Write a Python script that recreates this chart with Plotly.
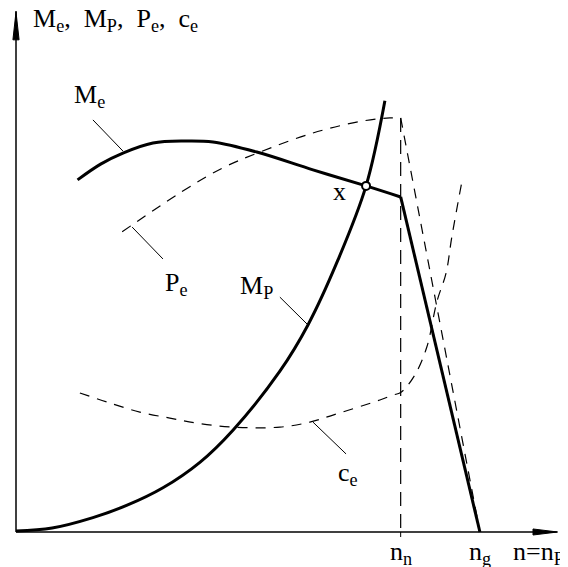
import plotly.graph_objects as go

# n as % of n_n, values in relative units (M_e at n_n = 100)
n_me = [16, 22, 27.8, 35.6, 43.9, 51.2, 62.6, 77.2, 91.0, 100]
me = [105.1, 109.8, 113.1, 116.1, 116.7, 116.4, 113.4, 108.1, 103.3, 100]
n_me_drop = [100, 120.6]
me_drop = [100, 0]

n_mp = [0, 9.4, 20.0, 28.9, 38.2, 47.8, 56.4, 68.6, 75.9, 83.7, 91.0, 95.9]
mp = [0.3, 1.2, 4.3, 8.0, 13.2, 20.8, 30.4, 48.0, 61.8, 81.2, 103.3, 128.7]

n_pe = [27.6, 42.6, 53.8, 63.4, 77.2, 90.2, 97.2, 100]
pe = [89.6, 101.2, 108.7, 113.4, 119.1, 122.7, 123.6, 123.6]
n_pe_drop = [100, 120.6]
pe_drop = [123.6, 0]

n_ce = [16.6, 24.4, 32.2, 40.0, 47.0, 56.4, 68.6, 76.4, 82.4, 94.6, 98.0, 100,
        103.7, 106.8, 109.4, 111.8, 113.3, 115.9]
ce = [41.5, 38.5, 35.8, 34.0, 32.5, 31.3, 31.3, 32.8, 34.9, 39.4, 40.9, 41.6,
      46.9, 55.2, 68.7, 77.3, 88.1, 104.5]

n_n = 100
n_g = 120.6
x_point = (91.0, 103.3)

FONT = "Liberation Serif"
BLACK = "black"
FS = 26

fig = go.Figure()

# thick curves
fig.add_trace(go.Scatter(x=n_me, y=me, mode="lines", line=dict(color=BLACK, width=3, shape="spline")))
fig.add_trace(go.Scatter(x=n_me_drop, y=me_drop, mode="lines", line=dict(color=BLACK, width=3)))
fig.add_trace(go.Scatter(x=n_mp, y=mp, mode="lines", line=dict(color=BLACK, width=3, shape="spline")))

# dashed curves
fig.add_trace(go.Scatter(x=n_pe, y=pe, mode="lines",
                         line=dict(color=BLACK, width=1.2, shape="spline", dash="10px,8px")))
fig.add_trace(go.Scatter(x=n_pe_drop, y=pe_drop, mode="lines",
                         line=dict(color=BLACK, width=1.2, dash="10px,8px")))
fig.add_trace(go.Scatter(x=n_ce, y=ce, mode="lines",
                         line=dict(color=BLACK, width=1.2, shape="spline", dash="10px,8px")))
# vertical at n_n
fig.add_trace(go.Scatter(x=[n_n, n_n], y=[pe[-1], 0], mode="lines",
                         line=dict(color=BLACK, width=1.2, dash="14px,8px")))

# operating point x
fig.add_trace(go.Scatter(x=[x_point[0]], y=[x_point[1]], mode="markers",
                         marker=dict(symbol="circle", size=8, color="white",
                                     line=dict(color=BLACK, width=2))))

# leader lines
leaders = [
    ((20.0, 123.0), (27.8, 113.7)),
    ((30.2, 91.0), (38.2, 81.5)),
    ((68.6, 70.1), (75.9, 61.8)),
    ((77.2, 32.8), (85.8, 23.3)),
]
for (x0, y0), (x1, y1) in leaders:
    fig.add_shape(type="line", x0=x0, y0=y0, x1=x1, y1=y1, line=dict(color=BLACK, width=1))

# axes with arrows
fig.add_shape(type="line", x0=0, y0=0, x1=140.6, y1=0, line=dict(color=BLACK, width=1.5))
fig.add_shape(type="line", x0=0, y0=0, x1=0, y1=155.5, line=dict(color=BLACK, width=1.5))
fig.add_shape(type="path", path="M 134.4 -0.9 L 140.8 0 L 134.4 0.9 Z",
              fillcolor=BLACK, line=dict(color=BLACK, width=1))
fig.add_shape(type="path", path="M -0.8 146.9 L 0 155.2 L 0.8 146.9 Z",
              fillcolor=BLACK, line=dict(color=BLACK, width=1))
# tick at n_n
fig.add_shape(type="line", x0=n_n, y0=-1.5, x1=n_n, y1=0, line=dict(color=BLACK, width=1))

sp = "&nbsp;"
labels = [
    (19.0, 130.0, "M<sub>e</sub>", "center"),
    (62.6, 73.1, "M<sub>P</sub>", "center"),
    (41.6, 74.0, "P<sub>e</sub>", "center"),
    (86.3, 17.3, "c<sub>e</sub>", "center"),
    (84.2, 101.5, "x", "center"),
    (n_n, -6.2, "n<sub>n</sub>", "center"),
    (n_g, -6.2, "n<sub>g</sub>", "center"),
    (128.8, -6.2, "n=n<sub>P</sub>", "left"),
    (3.9, 152.8, "M<sub>e</sub>," + sp + " M<sub>P</sub>," + sp + " P<sub>e</sub>," + sp + " c<sub>e</sub>", "left"),
]
for x, y, t, anchor in labels:
    fig.add_annotation(x=x, y=y, text=t, showarrow=False, xanchor=anchor, yanchor="middle",
                       font=dict(family=FONT, size=FS, color=BLACK))

# page body keeps an 8px margin, so the figure is 8px smaller and ranges shifted
fig.update_layout(
    width=560, height=559,
    margin=dict(l=0, r=0, t=0, b=0),
    paper_bgcolor="white", plot_bgcolor="white",
    showlegend=False,
    xaxis=dict(range=[-2.08, 143.5], visible=False, fixedrange=True),
    yaxis=dict(range=[-10.45, 156.4], visible=False, fixedrange=True),
)

fig.write_html("out.html")
